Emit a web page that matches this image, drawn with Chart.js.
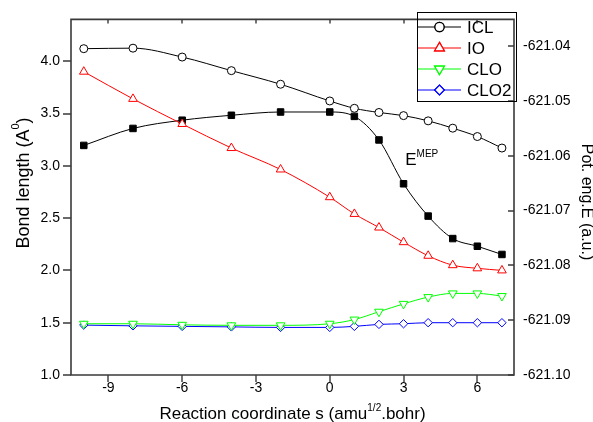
<!DOCTYPE html>
<html>
<head>
<meta charset="utf-8">
<script src="https://cdn.jsdelivr.net/npm/chart.js@4.4.1/dist/chart.umd.min.js"></script>
<style>
html,body{margin:0;padding:0;background:#fff;}
canvas{display:block;}
</style>
</head>
<body>
<canvas id="c" width="593" height="422"></canvas>
<script>
// ---- data ----
const sValues = [-10, -8, -6, -4, -2, 0, 1, 2, 3, 4, 5, 6, 7];
const icl  = [4.12, 4.125, 4.04, 3.91, 3.78, 3.62, 3.55, 3.51, 3.48, 3.43, 3.36, 3.28, 3.17];
const io   = [3.90, 3.64, 3.40, 3.17, 2.965, 2.70, 2.54, 2.41, 2.27, 2.14, 2.05, 2.02, 2.00];
const clo  = [1.49, 1.49, 1.48, 1.475, 1.475, 1.49, 1.53, 1.605, 1.68, 1.745, 1.78, 1.78, 1.755];
const clo2 = [1.477, 1.47, 1.465, 1.46, 1.455, 1.455, 1.465, 1.484, 1.49, 1.50, 1.50, 1.50, 1.50];
const emep = [-621.0581, -621.0550, -621.0535, -621.0526, -621.0520, -621.0520, -621.0528, -621.0571, -621.0651, -621.0710, -621.0751, -621.0765, -621.0780];
const xTicks  = [-9, -6, -3, 0, 3, 6];
const yTicks  = [1.0, 1.5, 2.0, 2.5, 3.0, 3.5, 4.0];
const y2Ticks = [-621.10, -621.09, -621.08, -621.07, -621.06, -621.05, -621.04];
const seriesNames = ['ICL', 'IO', 'CLO', 'CLO2'];

const FONT = "'Liberation Sans', Arial, sans-serif";
const pts = arr => sValues.map((x, i) => ({x: x, y: arr[i]}));

const datasets = [
  {label: 'ICL', data: pts(icl), borderColor: '#000', backgroundColor: '#fff', pointStyle: 'circle', pointRadius: 4, pointBorderColor: '#000', pointBackgroundColor: '#fff', yAxisID: 'y'},
  {label: 'IO', data: pts(io), borderColor: '#ff0000', backgroundColor: '#fff', pointStyle: 'triangle', pointRadius: 5, pointBorderColor: '#ff0000', pointBackgroundColor: '#fff', yAxisID: 'y'},
  {label: 'CLO', data: pts(clo), borderColor: '#00ff00', backgroundColor: '#fff', pointStyle: 'triangle', pointRotation: 180, pointRadius: 5, pointBorderColor: '#00ff00', pointBackgroundColor: '#fff', yAxisID: 'y'},
  {label: 'CLO2', data: pts(clo2), borderColor: '#0000ff', backgroundColor: '#fff', pointStyle: 'rectRot', pointRadius: 4.2, pointBorderColor: '#0000ff', pointBackgroundColor: '#fff', yAxisID: 'y'},
  {label: 'EMEP', data: pts(emep), borderColor: '#000', backgroundColor: '#000', pointStyle: 'rect', pointRadius: 4.6, pointBorderColor: '#000', pointBackgroundColor: '#000', yAxisID: 'y2'}
];
datasets.forEach(d => { d.borderWidth = 1; d.pointBorderWidth = 1; d.cubicInterpolationMode = 'monotone'; d.fill = false; });

const FRAME = {left: 71, right: 514, top: 19, bottom: 375};

const decor = {
  id: 'decor',
  afterDraw(chart) {
    const ctx = chart.ctx;
    const a = chart.chartArea;
    const xs = chart.scales.x, ys = chart.scales.y, y2 = chart.scales.y2;
    ctx.save();
    // frame
    ctx.strokeStyle = '#3a3a3a';
    ctx.lineWidth = 1.6;
    ctx.beginPath();
    ctx.rect(a.left, a.top, a.right - a.left, a.bottom - a.top);
    ctx.stroke();
    ctx.lineWidth = 1.4;
    ctx.beginPath();
    // left ticks outward
    yTicks.forEach(v => { const y = Math.round(ys.getPixelForValue(v)); ctx.moveTo(a.left - 8, y); ctx.lineTo(a.left, y); });
    // right ticks inward
    y2Ticks.forEach(v => { const y = Math.round(y2.getPixelForValue(v)); ctx.moveTo(a.right - 6, y); ctx.lineTo(a.right, y); });
    // bottom ticks outward, top ticks inward
    xTicks.forEach(v => { const x = Math.round(xs.getPixelForValue(v)); ctx.moveTo(x, a.bottom); ctx.lineTo(x, a.bottom + 7); ctx.moveTo(x, a.top); ctx.lineTo(x, a.top + 4); });
    ctx.stroke();

    ctx.fillStyle = '#000';
    // x title
    ctx.font = '17px ' + FONT;
    ctx.textBaseline = 'alphabetic';
    const t1 = 'Reaction coordinate s (amu', sup = '1/2', t2 = '.bohr)';
    const w1 = ctx.measureText(t1).width, w2 = ctx.measureText(t2).width;
    ctx.font = '10px ' + FONT;
    const ws = ctx.measureText(sup).width;
    const total = w1 + ws + w2;
    let x0 = (a.left + a.right) / 2 - total / 2;
    const by = 419;
    ctx.font = '17px ' + FONT;
    ctx.fillText(t1, x0, by);
    ctx.font = '10px ' + FONT;
    ctx.fillText(sup, x0 + w1, by - 8);
    ctx.font = '17px ' + FONT;
    ctx.fillText(t2, x0 + w1 + ws, by);

    // left title (rotated)
    ctx.save();
    ctx.translate(29, 183);
    ctx.rotate(-Math.PI / 2);
    ctx.font = '18px ' + FONT;
    const l1 = 'Bond length (A', l2 = ')';
    const lw1 = ctx.measureText(l1).width;
    ctx.font = '11px ' + FONT;
    const lws = ctx.measureText('0').width;
    ctx.font = '18px ' + FONT;
    const lw2 = ctx.measureText(l2).width;
    const ltot = lw1 + lws + lw2;
    ctx.textAlign = 'left';
    ctx.fillText(l1, -ltot / 2, 0);
    ctx.font = '11px ' + FONT;
    ctx.fillText('0', -ltot / 2 + lw1, -10);
    ctx.font = '18px ' + FONT;
    ctx.fillText(l2, -ltot / 2 + lw1 + lws, 0);
    ctx.restore();

    // right title (rotated clockwise)
    ctx.save();
    ctx.translate(582, 202);
    ctx.rotate(Math.PI / 2);
    ctx.font = '16px ' + FONT;
    ctx.textAlign = 'center';
    ctx.fillText('Pot. eng.E (a.u.)', 0, 0);
    ctx.restore();

    // E^MEP label
    const ex = xs.getPixelForValue(3.07), ey = y2.getPixelForValue(-621.0617);
    ctx.font = '17px ' + FONT;
    ctx.textAlign = 'left';
    ctx.fillText('E', ex, ey);
    const ew = ctx.measureText('E').width;
    ctx.font = '10px ' + FONT;
    ctx.fillText('MEP', ex + ew, ey - 8);

    // legend
    ctx.strokeStyle = '#000';
    ctx.lineWidth = 1;
    ctx.strokeRect(417.5, 12.5, 99, 89);
    const rows = [27, 48, 69, 90];
    seriesNames.forEach((name, i) => {
      const d = datasets[i];
      const yy = rows[i];
      ctx.strokeStyle = d.borderColor;
      ctx.lineWidth = 1.2;
      ctx.beginPath();
      ctx.moveTo(418, yy); ctx.lineTo(461, yy);
      ctx.stroke();
      ctx.fillStyle = '#fff';
      Chart.helpers.drawPoint(ctx, {pointStyle: d.pointStyle, radius: d.pointRadius + 0.6, rotation: d.pointRotation || 0, borderWidth: 1}, 439.5, yy);
      ctx.fill();
      ctx.stroke();
      ctx.fillStyle = '#000';
      ctx.font = '17px ' + FONT;
      ctx.textBaseline = 'middle';
      ctx.fillText(name, 467, yy + 1);
      ctx.textBaseline = 'alphabetic';
    });
    ctx.restore();
  }
};

new Chart(document.getElementById('c'), {
  type: 'line',
  data: {datasets: datasets},
  options: {
    responsive: false,
    animation: false,
    devicePixelRatio: 1,
    layout: {padding: {top: FRAME.top, left: 0, right: 0, bottom: 0}},
    plugins: {legend: {display: false}, tooltip: {enabled: false}},
    scales: {
      x: {
        type: 'linear', position: 'bottom', min: -10.52, max: 7.49,
        grid: {display: false, drawTicks: false}, border: {display: false},
        afterBuildTicks: s => { s.ticks = xTicks.map(v => ({value: v})); },
        afterFit: s => { s.height = 422 - FRAME.bottom; },
        ticks: {padding: 5, color: '#000', font: {family: FONT, size: 14}, callback: v => String(v)}
      },
      y: {
        type: 'linear', position: 'left', min: 1.0, max: 4.40,
        grid: {display: false, drawTicks: false}, border: {display: false},
        afterBuildTicks: s => { s.ticks = yTicks.map(v => ({value: v})); },
        afterFit: s => { s.width = FRAME.left; },
        ticks: {padding: 11, color: '#000', font: {family: FONT, size: 14}, callback: v => Number(v).toFixed(1)}
      },
      y2: {
        type: 'linear', position: 'right', min: -621.10, max: -621.0351,
        grid: {display: false, drawTicks: false}, border: {display: false},
        afterBuildTicks: s => { s.ticks = y2Ticks.map(v => ({value: v})); },
        afterFit: s => { s.width = 593 - FRAME.right; },
        ticks: {padding: 9, color: '#000', font: {family: FONT, size: 14}, callback: v => Number(v).toFixed(2)}
      }
    }
  },
  plugins: [decor]
});
</script>
</body>
</html>
